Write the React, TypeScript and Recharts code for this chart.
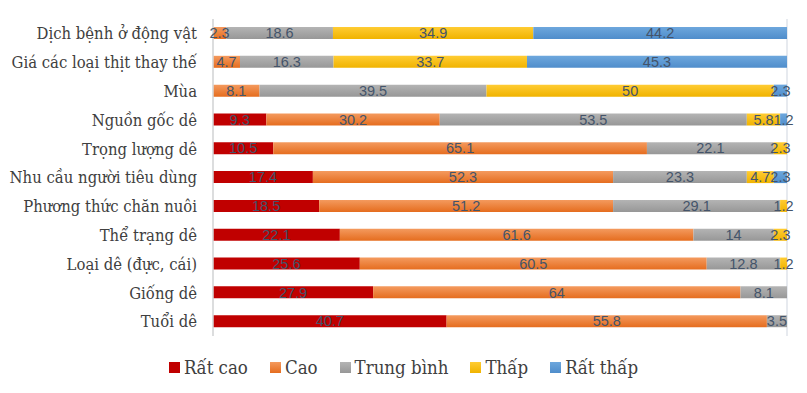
import { BarChart, Bar, XAxis, YAxis, CartesianGrid, LabelList } from 'recharts';

// Categories top → bottom
const categories = [
  'Dịch bệnh ở động vật',
  'Giá các loại thịt thay thế',
  'Mùa',
  'Nguồn gốc dê',
  'Trọng lượng dê',
  'Nhu cầu người tiêu dùng',
  'Phương thức chăn nuôi',
  'Thể trạng dê',
  'Loại dê (đực, cái)',
  'Giống dê',
  'Tuổi dê',
];

const ratCao = [0, 0, 0, 9.3, 10.5, 17.4, 18.5, 22.1, 25.6, 27.9, 40.7];
const cao = [2.3, 4.7, 8.1, 30.2, 65.1, 52.3, 51.2, 61.6, 60.5, 64, 55.8];
const trungBinh = [18.6, 16.3, 39.5, 53.5, 22.1, 23.3, 29.1, 14, 12.8, 8.1, 3.5];
const thap = [34.9, 33.7, 50, 5.8, 2.3, 4.7, 1.2, 2.3, 1.2, 0, 0];
const ratThap = [44.2, 45.3, 2.3, 1.2, 0, 2.3, 0, 0, 0, 0, 0];

const xTicks = [0, 0.1, 0.2, 0.3, 0.4, 0.5, 0.6, 0.7, 0.8, 0.9, 1];

const SERIF = '"DejaVu Serif Condensed", "DejaVu Serif", serif';

const SERIES = [
  { key: 'ratCao', name: 'Rất cao', top: '#C00000', bottom: '#C00000' },
  { key: 'cao', name: 'Cao', top: '#F49A5E', bottom: '#E56D1F' },
  { key: 'trungBinh', name: 'Trung bình', top: '#B4B4B4', bottom: '#979797' },
  { key: 'thap', name: 'Thấp', top: '#FFCC33', bottom: '#F0B300' },
  { key: 'ratThap', name: 'Rất thấp', top: '#6DA7DD', bottom: '#4F8DCB' },
];

const data = categories.map((name, i) => ({
  name,
  ratCao: ratCao[i],
  cao: cao[i],
  trungBinh: trungBinh[i],
  thap: thap[i],
  ratThap: ratThap[i],
}));

const hideZero = (v: any) => (Number(v) === 0 ? '' : v);

export default function App() {
  return (
    <div style={{ position: 'absolute', left: 0, top: 0, width: 807, height: 393, background: '#fff' }}>
      <BarChart
        width={807}
        height={393}
        data={data}
        layout="vertical"
        stackOffset="expand"
        margin={{ top: 19, right: 20, bottom: 57, left: 0 }}
      >
        <defs>
          {SERIES.map((s) => (
            <linearGradient key={s.key} id={`g-${s.key}`} x1="0" y1="0" x2="0" y2="1">
              <stop offset="0%" stopColor={s.top} />
              <stop offset="100%" stopColor={s.bottom} />
            </linearGradient>
          ))}
        </defs>
        <CartesianGrid horizontal={false} stroke="#DFE3EA" strokeWidth={1.5} />
        <XAxis
          type="number"
          domain={[0, 1]}
          ticks={xTicks}
          tick={false}
          axisLine={false}
          tickLine={false}
          height={0}
        />
        <YAxis
          type="category"
          dataKey="name"
          width={213}
          tickLine={false}
          tickMargin={10}
          axisLine={{ stroke: '#D9D9D9', strokeWidth: 1.5 }}
          tick={{ fontFamily: SERIF, fontStretch: 'condensed', fontSize: 16.5, fill: '#404040' }}
          interval={0}
        />
        {SERIES.map((s) => (
          <Bar
            key={s.key}
            dataKey={s.key}
            name={s.name}
            stackId="a"
            fill={`url(#g-${s.key})`}
            barSize={12}
            isAnimationActive={false}
          >
            <LabelList
              dataKey={s.key}
              position="center"
              formatter={hideZero}
              style={{ fontFamily: '"Liberation Sans", Arial, sans-serif', fontSize: 14.5, fill: '#44546A' }}
            />
          </Bar>
        ))}
      </BarChart>

      <div
        style={{
          position: 'absolute',
          left: 0,
          top: 357,
          width: 807,
          display: 'flex',
          justifyContent: 'center',
          gap: 22,
          fontFamily: SERIF,
          fontStretch: 'condensed',
          fontSize: 18.5,
          color: '#404040',
        }}
      >
        {SERIES.map((s) => (
          <div key={s.key} style={{ display: 'flex', alignItems: 'center', gap: 4 }}>
            <span
              style={{
                display: 'inline-block',
                width: 11,
                height: 11,
                background: `linear-gradient(${s.top}, ${s.bottom})`,
              }}
            />
            {s.name}
          </div>
        ))}
      </div>
    </div>
  );
}
